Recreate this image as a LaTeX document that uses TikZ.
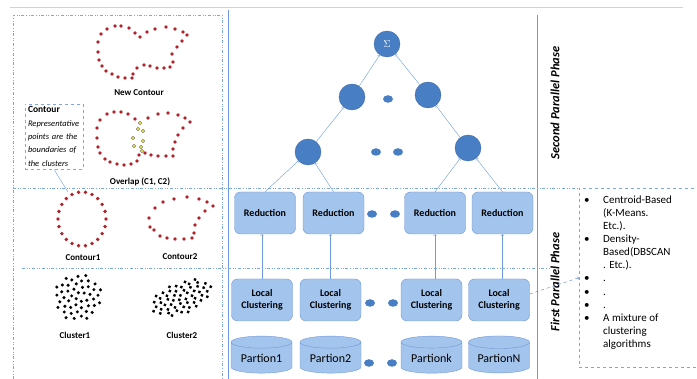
\documentclass[tikz,border=0pt]{standalone}
\usepackage{fontspec}
\setmainfont{Carlito}
\usetikzlibrary{shapes.geometric}
\definecolor{boxfill}{RGB}{163,196,236}
\definecolor{boxline}{RGB}{112,152,212}
\definecolor{nodeblue}{RGB}{72,126,196}
\definecolor{arrowblue}{RGB}{110,155,220}
\definecolor{frameblue}{RGB}{125,168,222}
\definecolor{linkblue}{RGB}{80,120,200}
\definecolor{dotred}{RGB}{178,34,40}
\definecolor{dotyellow}{RGB}{232,222,70}
\tikzset{
  redbox/.style={draw=boxline, fill=boxfill, rounded corners=6pt, minimum width=61pt,
    minimum height=42pt, font=\fontsize{10}{12}\selectfont\bfseries, align=center, inner sep=1pt},
  part/.style={cylinder, shape border rotate=90, aspect=0.28, draw=boxline, fill=boxfill,
    minimum width=61pt, minimum height=37pt, font=\fontsize{12}{14}\selectfont, inner sep=1pt},
  sumnode/.style={circle, fill=nodeblue, draw=nodeblue!85!black, minimum size=26pt, inner sep=0pt},
  gap/.style={ellipse, fill=nodeblue, minimum width=10pt, minimum height=7.5pt, inner sep=0pt},
  flow/.style={->, arrowblue},
  frame/.style={frameblue, dash dot dot},
  lbl/.style={font=\fontsize{9}{11}\selectfont\bfseries},
  phase/.style={rotate=90, font=\fontsize{12.5}{15}\selectfont\bfseries\itshape},
}
\begin{document}
\begin{tikzpicture}[x=1pt,y=-1pt]
\useasboundingbox (0,0) rectangle (697,379);
% frames
\draw[gray!35] (10,7) -- (683,7);
\draw[frame] (13,379) -- (13,15) -- (222,15) -- (222,379);
\draw[arrowblue] (228,10) -- (228,379);
\draw[arrowblue] (537,15) -- (537,379);
\draw[frame] (13,188) -- (578,188);
\draw[frame] (22,268) -- (550,268);

% second phase
\node[sumnode, text=white] (sum) at (387,44) {$\Sigma$};
\node[sumnode] (m1) at (352,97) {};
\node[sumnode] (m2) at (428,95) {};
\node[gap] (g0) at (388,99) {};
\node[sumnode] (b1) at (308,152) {};
\node[sumnode] (b2) at (468,148) {};
\node[gap] (g1) at (376,152) {};
\node[gap] (g2) at (398,152) {};

% first phase
\node[redbox] (r1) at (265,213) {Reduction};
\node[redbox] (r2) at (333.5,213) {Reduction};
\node[redbox] (r3) at (435,213) {Reduction};
\node[redbox] (r4) at (502.5,213) {Reduction};
\node[gap] (g3) at (372,214) {};
\node[gap] (g4) at (395,214) {};
\node[redbox] (l1) at (262,300) {Local\\Clustering};
\node[redbox] (l2) at (330.5,300) {Local\\Clustering};
\node[redbox] (l3) at (431.5,300) {Local\\Clustering};
\node[redbox] (l4) at (499,300) {Local\\Clustering};
\node[gap] (g5) at (370,303) {};
\node[gap] (g6) at (393,303) {};
\node[part] (p1) at (261.5,358.5) {Partion1};
\node[part] (p2) at (330.5,358.5) {Partion2};
\node[part] (p3) at (431.5,358.5) {Partionk};
\node[part] (p4) at (499,358.5) {PartionN};
\node[gap] (g7) at (369,363) {};
\node[gap] (g8) at (392,363) {};

\draw[flow] (l1.north) -- (l1.north |- r1.south);
\draw[flow] (l2.north) -- (l2.north |- r2.south);
\draw[flow] (r3.south |- l3.north) -- (r3.south);
\draw[flow] (r4.south |- l4.north) -- (r4.south);
\draw[flow] (r1.north) -- (b1);
\draw[flow] (r2.north) -- (b1);
\draw[flow] (r3.north) -- (b2);
\draw[flow] (r4.north) -- (b2);
\draw[flow] (b1) -- (m1);
\draw[flow] (b2) -- (m2);
\draw[flow] (m1) -- (sum);
\draw[flow] (m2) -- (sum);

% phases and algorithms
\node[phase] (ph2) at (555,103) {Second Parallel Phase};
\node[phase] (ph1) at (555,282) {First Parallel Phase};
\node[draw=frameblue, dashed, anchor=north west, minimum width=130pt, minimum height=179pt] (algobox) at (579,188) {};
\node[anchor=north west, inner sep=0pt, font=\fontsize{11}{13.1}\selectfont] (algos) at ([shift={(5,6)}]algobox.north west)
  {\begin{tabular}{@{}p{19pt}@{}l@{}}
   \textbullet & Centroid-Based\\ & (K-Means.\\ & Etc.).\\
   \textbullet & Density-\\ & Based(DBSCAN\\ & . Etc.).\\
   \textbullet & .\\ \textbullet & .\\ \textbullet & .\\
   \textbullet & A mixture of\\ & clustering\\ & algorithms
   \end{tabular}};
\draw[->, linkblue, dashed] ([yshift=6pt]l4.east) -- (algobox.west);

% contours and clusters
\foreach \p in {(115,26),(121,26),(129,28),(135,33),(140,37),(147,32),(155,29),(166,27),(175,29),
  (183,32),(187,35),(182,41),(177,47),(172,54),(173,62),(170,67),(164,68),(157,68),(150,66),
  (144,65),(137,68),(133,74),(132,78),(125,78),(118,77),(112,74),(106,71),(102,66),(99,60),
  (98,52),(98,42),(101,34),(107,29)}
  \fill[dotred] \p circle (1.9pt);
\node[lbl] (newc) at (139,93) {New Contour};
\foreach \p in {(100,120),(107,114),(114,112),(121,112),(128,114),(135,119),(97,128),(97,138),
  (98,147),(100,153),(105,159),(110,162),(117,164),(124,165),(131,164),(137,161),
  (148,118),(158,114),(168,113),(178,115),(185,118),(190,122),(183,128),(178,135),(175,142),
  (173,149),(173,156),(166,156),(158,156),(151,155),(145,153),(139,155)}
  \fill[dotred] \p circle (1.9pt);
\foreach \p in {(140,123),(138,129),(143,131),(133,138),(143,141),(134,146),(141,147),(142,151)}
  \filldraw[fill=dotyellow, draw=black!55, line width=0.3pt] \p circle (1.9pt);
\node[lbl] (ovl) at (140,182) {Overlap (C1, C2)};
\node[draw=frameblue, dashed, text width=52pt, inner sep=3pt, align=left,
  font=\fontsize{8.5}{13.3}\selectfont\itshape] (callout) at (54,136.5)
  {{\upshape\bfseries\fontsize{9.5}{13.3}\selectfont Contour}\\Representative\\points are the\\boundaries of\\the clusters};
\foreach \i in {0,...,21}
  \fill[dotred] ({82+24*cos(\i*360/22)},{219+27*sin(\i*360/22)}) circle (1.9pt);
\coordinate (c1top) at (68,192);
\draw[arrowblue] (callout.south) -- (c1top);
\node[lbl] (cont1) at (83,258) {Contour1};
\foreach \p in {(155,208),(163,202),(174,199),(187,197),(199,199),(207,202),(213,206),(205,211),
  (199,218),(195,225),(194,233),(192,238),(184,239),(175,239),(167,238),(160,236),(154,230),
  (150,227),(149,218)}
  \fill[dotred] \p circle (1.9pt);
\node[lbl] (cont2) at (180,257) {Contour2};
\foreach \i in {1,...,48} {
  \pgfmathsetmacro\rr{24*sqrt((\i-0.5)/48)}
  \fill ({78+\rr*cos(\i*137.5)},{297+\rr*sin(\i*137.5)}) circle (1.7pt);
}
\node[lbl] (clu1) at (75,335) {Cluster1};
\begin{scope}[shift={(181,298)}, rotate=22]
\foreach \i in {1,...,55} {
  \pgfmathsetmacro\rr{sqrt((\i-0.5)/55)}
  \fill ({32*\rr*cos(\i*137.5)},{16*\rr*sin(\i*137.5)}) circle (1.7pt);
}
\end{scope}
\node[lbl] (clu2) at (182,335) {Cluster2};
\end{tikzpicture}
\end{document}
